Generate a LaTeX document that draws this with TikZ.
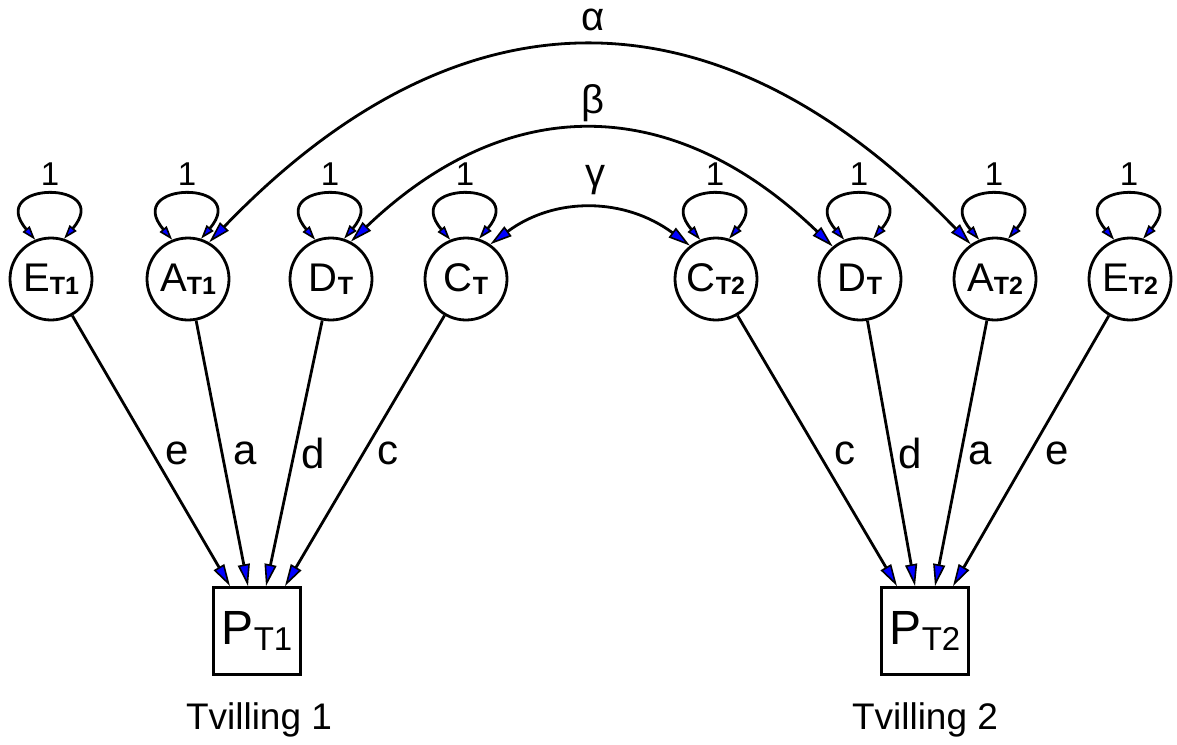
\documentclass[tikz,border=0pt]{standalone}
\usepackage{fontspec}
\setmainfont{Liberation Sans}
\usetikzlibrary{arrows.meta,calc}
\newcommand\sbb[1]{\raisebox{-3pt}{\fontsize{25}{25}\selectfont\bfseries #1}}
\newcommand\psub[1]{\raisebox{-6pt}{\fontsize{33}{33}\selectfont #1}}
\begin{document}
\begin{tikzpicture}[x=1pt,y=-1pt,
  lat/.style={circle,draw,line width=2.8pt,minimum size=82pt,inner sep=0pt,font=\fontsize{40}{40}\selectfont},
  obs/.style={rectangle,draw,line width=2.8pt,minimum size=87pt,inner sep=0pt,font=\fontsize{48}{50}\selectfont},
  tipb/.tip={Triangle[length=22pt 0 0,width=12pt 0 0,fill=blue,line width=1.6pt]},
  tips/.tip={Triangle[length=14pt 0 0,width=9pt 0 0,fill=blue,line width=1.6pt]},
  arr/.style={line width=2.8pt,-tipb},
  dbl/.style={line width=2.8pt,tipb-tipb},
  lp/.style={line width=2.8pt,tips-tips},
  lbl/.style={font=\fontsize{42}{42}\selectfont,inner sep=0pt},
  twinlabel/.style={font=\fontsize{37}{40}\selectfont,inner sep=0pt},
  one/.style={font=\fontsize{33}{33}\selectfont,inner sep=0pt},
  grk/.style={font=\fontsize{40}{40}\selectfont,inner sep=0pt},
  ]
\useasboundingbox (0,0) rectangle (1177,744);
% latent variables
\node[lat] (E1) at (51,279) {E\sbb{T1}};
\node[lat] (A1) at (188,279) {A\sbb{T1}};
\node[lat] (D1) at (331,279) {D\sbb{T}};
\node[lat] (C1) at (466,279) {C\sbb{T}};
\node[lat] (C2) at (716,279) {C\sbb{T2}};
\node[lat] (D2) at (860,279) {D\sbb{T}};
\node[lat] (A2) at (995,279) {A\sbb{T2}};
\node[lat] (E2) at (1130,279) {E\sbb{T2}};
% observed
\node[obs] (P1) at (257,631) {P\psub{T1}};
\node[obs] (P2) at (925,631) {P\psub{T2}};
\node[twinlabel] (t1) at (259,720) {Tvilling 1};
\node[twinlabel] (t2) at (925,720) {Tvilling 2};
% self loops
\foreach \n in {E1,A1,D1,C1,C2,D2,A2,E2}{
  \draw[lp] (\n.112) .. controls +(-50,-59) and +(50,-59) .. (\n.72);
  \node[one] (one\n) at ($(\n)+(-1,-105)$) {1};
}
% covariances
\draw[dbl] (A1.60) .. controls +(252,-262) and +(-252,-262) .. (A2.125);
\draw[dbl] (D1.62) .. controls +(159,-152) and +(-158,-152) .. (D2.130);
\draw[dbl] (C1.55) .. controls +(65,-48) and +(-65,-48) .. (C2.128);
\node[grk] (alpha) at (593,20) {α};
\node[grk] (beta) at (593,103) {β};
\node[grk] (gamma) at (595,180) {γ};
% paths twin 1
\draw[arr] (E1) -- ([xshift=-27pt]P1.north);
\draw[arr] (A1) -- ([xshift=-9pt]P1.north);
\draw[arr] (D1) -- ([xshift=9pt]P1.north);
\draw[arr] (C1) -- ([xshift=28pt]P1.north);
% paths twin 2
\draw[arr] (C2) -- ([xshift=-28pt]P2.north);
\draw[arr] (D2) -- ([xshift=-10pt]P2.north);
\draw[arr] (A2) -- ([xshift=10pt]P2.north);
\draw[arr] (E2) -- ([xshift=28pt]P2.north);
% path labels
\node[lbl] (le1) at (177,453) {e};
\node[lbl] (la1) at (245,453) {a};
\node[lbl] (ld1) at (313,453) {d};
\node[lbl] (lc1) at (388,453) {c};
\node[lbl] (lc2) at (845,453) {c};
\node[lbl] (ld2) at (910,453) {d};
\node[lbl] (la2) at (980,453) {a};
\node[lbl] (le2) at (1057,453) {e};
\end{tikzpicture}
\end{document}
